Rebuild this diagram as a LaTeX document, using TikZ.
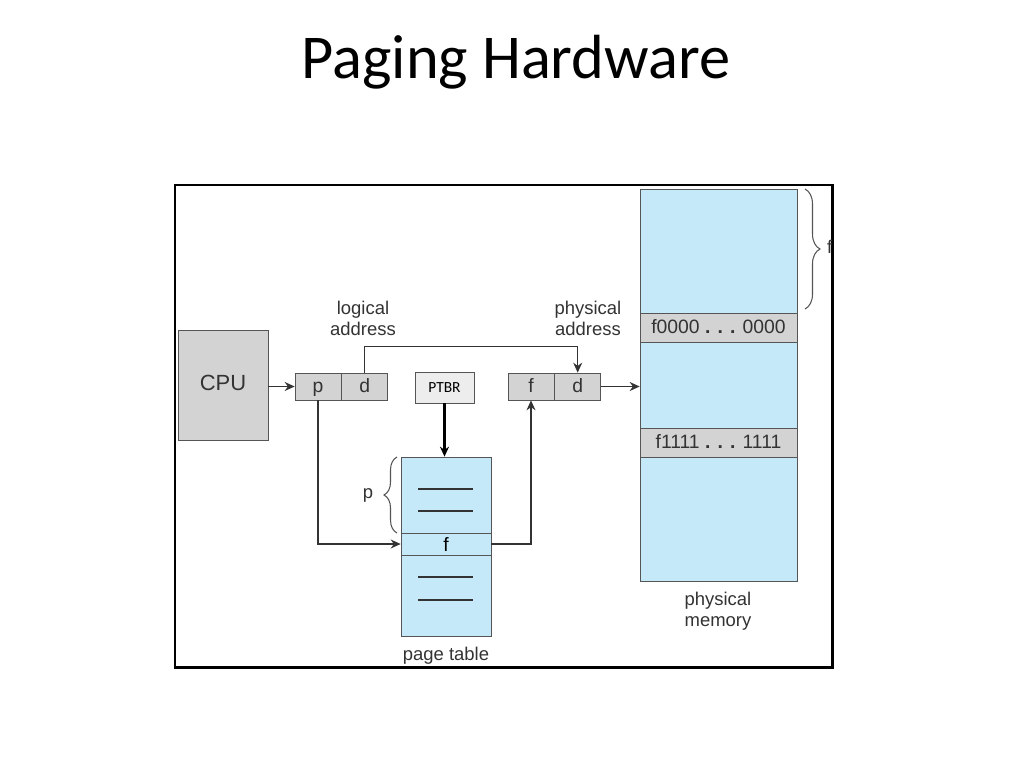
\documentclass[tikz,border=0pt]{standalone}
\usepackage{fontspec}
\setmainfont{Liberation Sans}
\newfontfamily\titlefont{Carlito}
\usepackage{tikz}
\usetikzlibrary{
   arrows.meta,
   calc,
   positioning,
   decorations.pathreplacing
}
\definecolor{cellgray}{HTML}{D3D3D3}
\definecolor{linegray}{HTML}{555555}
\definecolor{memblue}{HTML}{C6E9F9}
\definecolor{wiregray}{HTML}{333333}

\begin{document}
\begin{tikzpicture}[
    x=0.02cm, y=-0.02cm,
    cell/.style={rectangle, draw=linegray, fill=cellgray, minimum width=0.92cm, minimum height=0.54cm, inner sep=0pt, text height=1.55ex, text depth=0.35ex, text=black!80, font=\fontsize{11}{12}\selectfont},
    label/.style={align=center, text=black!80, font=\fontsize{10.5}{12}\selectfont},
    mem/.style={rectangle, draw=linegray, fill=memblue, inner sep=0pt},
    arrow/.style={-{Stealth[length=2mm,width=1.8mm]}, wiregray, line width=0.7pt},
    brace/.style={decorate, decoration={brace, amplitude=2.6mm}, linegray, line width=0.6pt}
]
\useasboundingbox (0,0) rectangle (1024,768);
\fill[white] (0,0) rectangle (1024,768);

\node[font=\titlefont\fontsize{35.5}{38}\selectfont] (title) at (516,62) {Paging Hardware};
\draw[line width=1.7pt] (175,185) rectangle (832,667);

% cpu and logical address
\node[cell, minimum width=1.8cm, minimum height=2.2cm, font=\fontsize{12.5}{14}\selectfont] (cpu) at (223,385) {CPU};
\node[cell] (lp) at (318,386.5) {p};
\node[cell, right=0pt of lp] (ld) {d};
\node[label] (logical) at (363,318) {logical\\address};

% ptbr
\node[rectangle, draw=linegray, fill=cellgray!40, minimum width=1.18cm, minimum height=0.62cm, inner sep=0pt, font=\titlefont\fontsize{8.8}{10}\selectfont] (ptbr) at (444.5,387.5) {PTBR};

% physical address
\node[cell] (pf) at (531,386.5) {f};
\node[cell, right=0pt of pf] (pd) {d};
\node[label] (physical) at (588,318) {physical\\address};

% page table
\node[mem, minimum width=1.8cm, minimum height=3.58cm] (pt) at (446,546.5) {};
\node[mem, minimum width=1.8cm, minimum height=0.44cm, font=\fontsize{11}{12}\selectfont] (ptf) at (446,544) {f};
\foreach \y in {489,511,577,600}
    \draw[wiregray, line width=0.6pt] (418,\y) -- (473,\y);
\draw[brace] (397,533) -- (397,457);
\node[label] (plabel) at (368,495) {p};
\node[label] (pagetable) at (446,656) {page table};

% physical memory
\node[mem, minimum width=3.14cm, minimum height=7.84cm] (memory) at (718.5,385) {};
\node[cell, minimum width=3.14cm, minimum height=0.58cm] (frow0) at (718.5,327.5) {f0000 \textbf{. . .} 0000};
\node[cell, minimum width=3.14cm, minimum height=0.58cm] (frow1) at (718.5,442.5) {f1111 \textbf{. . .} 1111};
\draw[brace, decoration={amplitude=3mm}] (805,189) -- (805,309);
\node[label, anchor=west] (flabel) at (821,247) {f};
\node[label] (memlabel) at (718,611) {physical\\memory};

% connectors
\draw[arrow] (cpu.east |- lp.west) -- (lp.west);
\draw[arrow] (ld.north) -- ++(0,-26) -| (pd.north);
\draw[arrow] (pd.east) -- (pd.east -| memory.west);
\draw[arrow, black, line width=1.4pt] (ptbr.south) -- (ptbr.south |- pt.north);
\draw[arrow] (lp.south) |- (ptf.west);
\draw[arrow] (ptf.east) -| (pf.south);

\end{tikzpicture}
\end{document}
